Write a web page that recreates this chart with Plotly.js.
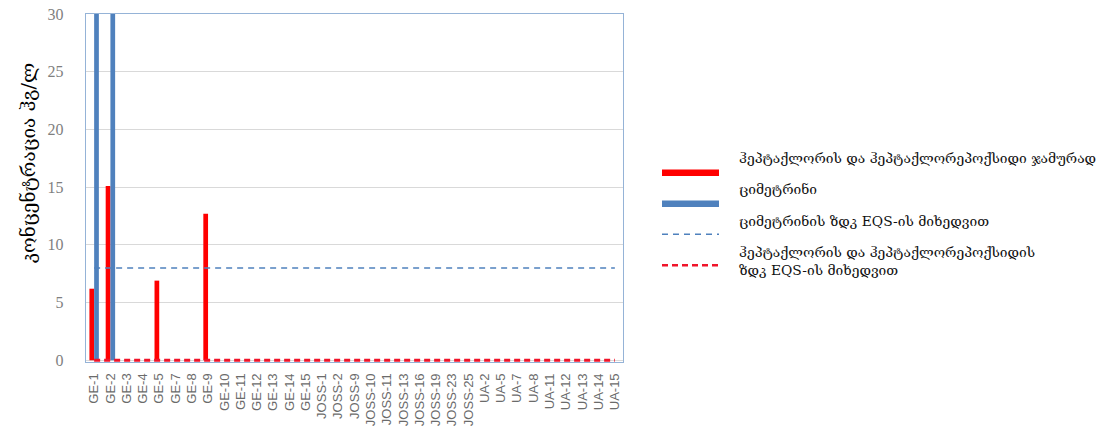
<!DOCTYPE html>
<html>
<head>
<meta charset="utf-8">
<script src="https://cdn.plot.ly/plotly-3.0.1.min.js"></script>
<style>html,body{margin:0;padding:0;background:#fff;}#chart{width:1114px;height:437px;}</style>
</head>
<body>
<div id="chart"></div>
<script>
const categories = ["GE-1","GE-2","GE-3","GE-4","GE-5","GE-7","GE-8","GE-9","GE-10","GE-11","GE-12","GE-13","GE-14","GE-15",
  "JOSS-1","JOSS-2","JOSS-9","JOSS-10","JOSS-11","JOSS-13","JOSS-16","JOSS-19","JOSS-23","JOSS-25",
  "UA-2","UA-5","UA-7","UA-8","UA-11","UA-12","UA-13","UA-14","UA-15"];
// heptachlor + heptachlor epoxide (sum)
const heptachlorSum = [6.2,15.1,0,0,6.9,0,0,12.7,0,0,0,0,0,0, 0,0,0,0,0,0,0,0,0,0, 0,0,0,0,0,0,0,0,0];
// cybutryne (values beyond the 30 axis limit are clipped)
const cybutryne = [40,40,0,0,0,0,0,0,0,0,0,0,0,0, 0,0,0,0,0,0,0,0,0,0, 0,0,0,0,0,0,0,0,0];
const cybutryneEQS = 8;
const heptachlorEQS = 0;
const yTicks = [0,5,10,15,20,25,30];

const names = [
  "ჰეპტაქლორის და ჰეპტაქლორეპოქსიდი ჯამურად",
  "ციმეტრინი",
  "ციმეტრინის ზდკ EQS-ის მიხედვით",
  "ჰეპტაქლორის და ჰეპტაქლორეპოქსიდის<br>ზდკ EQS-ის მიხედვით"
];
const yTitle = "კონცენტრაცია ჰგ/ლ";

const RED = "#ff0000", BLUE = "#4f81bd";

const traces = [
  {type:"bar", x:categories, y:heptachlorSum, name:names[0], marker:{color:RED}, hoverinfo:"x+y"},
  {type:"bar", x:categories, y:cybutryne, name:names[1], marker:{color:BLUE}, hoverinfo:"x+y"},
  {type:"scatter", mode:"lines", x:categories, y:categories.map(()=>cybutryneEQS), name:names[2],
   line:{color:BLUE, width:1.5, dash:"6px,5px"}},
  {type:"scatter", mode:"lines", x:categories, y:categories.map(()=>heptachlorEQS), name:names[3],
   line:{color:"#f0142a", width:3, dash:"6px,4px"}}
];

// plot area in pixels
const L = 86, R = 623, T = 13.5, B = 362, W = 1114, H = 437;
const px = x => (x - L) / (R - L);
const py = y => (B - y) / (B - T);

const legendFont = {family:"DejaVu Serif, Liberation Serif, serif", size:13.8, color:"#111"};
const shapes = [
  {type:"line", xref:"paper", yref:"paper", x0:px(662), x1:px(719), y0:py(172.5), y1:py(172.5), line:{color:RED, width:6.5}},
  {type:"line", xref:"paper", yref:"paper", x0:px(662), x1:px(719), y0:py(203.5), y1:py(203.5), line:{color:BLUE, width:6.5}},
  {type:"line", xref:"paper", yref:"paper", x0:px(662), x1:px(719), y0:py(234), y1:py(234), line:{color:BLUE, width:1.5, dash:"6px,5px"}},
  {type:"line", xref:"paper", yref:"paper", x0:px(662), x1:px(719), y0:py(265), y1:py(265), line:{color:"#f0142a", width:2.5, dash:"6px,4px"}}
];
const annYs = [158, 189, 221, 261];
const annotations = names.map((t,i)=>({
  xref:"paper", yref:"paper", x:px(737), y:py(annYs[i]), xanchor:"left", yanchor:"middle",
  text:t, showarrow:false, align:"left", font:legendFont
}));
annotations.push({
  xref:"paper", yref:"paper", x:px(28), y:py(163), xanchor:"center", yanchor:"middle",
  text:yTitle, textangle:-90, showarrow:false,
  font:{family:"DejaVu Serif, serif", size:19, color:"#000"}
});

const layout = {
  width:W, height:H,
  margin:{l:L, r:W-R, t:T, b:H-B, pad:0},
  paper_bgcolor:"#ffffff", plot_bgcolor:"#ffffff",
  showlegend:false,
  barmode:"group", bargap:0.42, bargroupgap:0,
  xaxis:{
    type:"category", tickangle:-90, showgrid:false, zeroline:false,
    showline:true, linecolor:"#95b3d7", linewidth:1.2, mirror:true,
    ticks:"outside", ticklen:5, tickcolor:"rgba(0,0,0,0)",
    tickfont:{family:"Liberation Sans, Arial, sans-serif", size:13, color:"#6b6b6b"}
  },
  yaxis:{
    range:[-0.15,30], tickvals:yTicks, showgrid:true, gridcolor:"#d9d9d9", gridwidth:1.2,
    zeroline:false, showline:true, linecolor:"#95b3d7", linewidth:1.2, mirror:true,
    ticks:"outside", ticklen:18, tickcolor:"rgba(0,0,0,0)",
    tickfont:{family:"Liberation Serif, DejaVu Serif, serif", size:16, color:"#7f7f7f"}
  },
  shapes:shapes,
  annotations:annotations
};

Plotly.newPlot("chart", traces, layout, {displayModeBar:false, staticPlot:true});
</script>
</body>
</html>
